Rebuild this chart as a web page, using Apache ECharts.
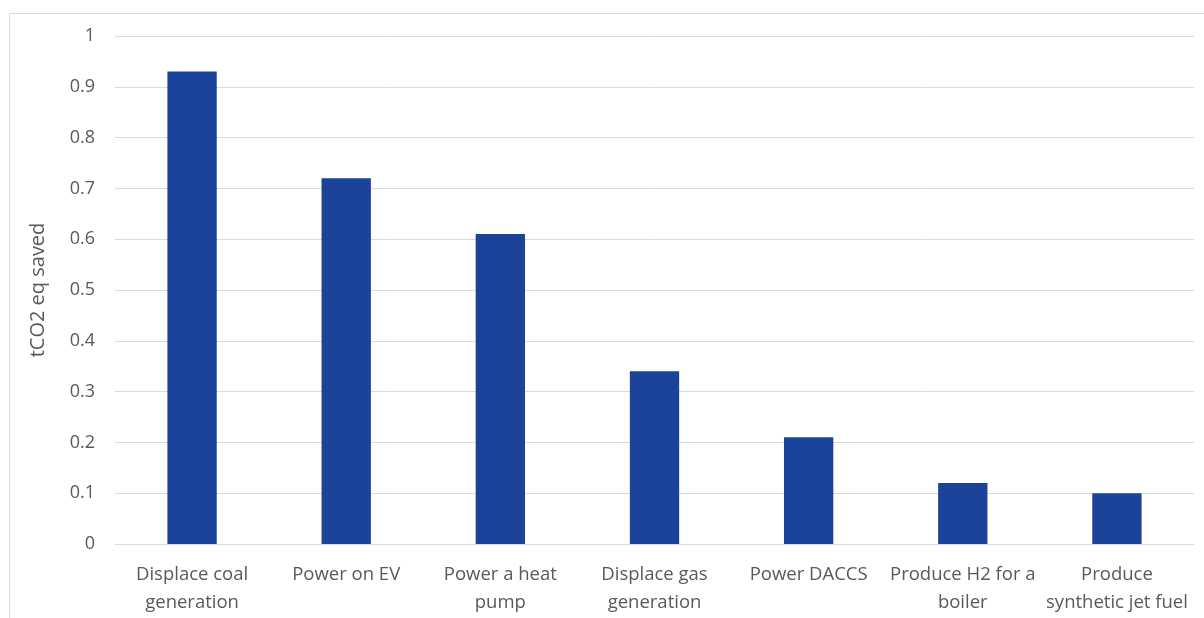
<!DOCTYPE html>
<html>
<head>
<meta charset="utf-8">
<script src="https://cdn.jsdelivr.net/npm/echarts@6/dist/echarts.min.js"></script>
<style>
  html, body { margin: 0; padding: 0; background: #fff; }
  #main { width: 1204px; height: 618px; }
</style>
</head>
<body>
<div id="main"></div>
<script>
const categories = [
  "Displace coal\ngeneration",
  "Power on EV",
  "Power a heat\npump",
  "Displace gas\ngeneration",
  "Power DACCS",
  "Produce H2 for a\nboiler",
  "Produce\nsynthetic jet fuel"
];
const savedValues = [0.93, 0.72, 0.61, 0.34, 0.21, 0.12, 0.10];
const yAxisName = "tCO2 eq saved";

const myChart = echarts.init(document.getElementById("main"));
const fontFamily = "'Open Sans', sans-serif";

const option = {
  animation: false,
  graphic: [
    {
      type: "rect",
      shape: { x: 9.5, y: 13.5, width: 1300, height: 700 },
      style: { fill: "none", stroke: "#d9d9d9", lineWidth: 1 },
      silent: true,
      z: -1
    }
  ],
  grid: { left: 115, right: 10, top: 36, bottom: 74 },
  xAxis: {
    type: "category",
    data: categories,
    axisTick: { show: false },
    axisLine: { lineStyle: { color: "#d9d9d9", width: 1 } },
    axisLabel: {
      color: "#595959",
      fontSize: 18.5,
      fontFamily: fontFamily,
      lineHeight: 28,
      margin: 17,
      interval: 0
    }
  },
  yAxis: {
    type: "value",
    min: 0,
    max: 1,
    interval: 0.1,
    name: yAxisName,
    nameLocation: "middle",
    nameGap: 67,
    nameTextStyle: { color: "#595959", fontSize: 20, fontFamily: fontFamily },
    axisLine: { show: false },
    axisTick: { show: false },
    splitLine: { lineStyle: { color: "#d9d9d9", width: 1 } },
    axisLabel: {
      color: "#595959",
      fontSize: 18,
      fontFamily: fontFamily,
      margin: 20,
      formatter: v => String(Math.round(v * 10) / 10)
    }
  },
  series: [
    {
      type: "bar",
      data: savedValues,
      barWidth: "32%",
      itemStyle: { color: "#1b4399" }
    }
  ]
};
myChart.setOption(option);
</script>
</body>
</html>
